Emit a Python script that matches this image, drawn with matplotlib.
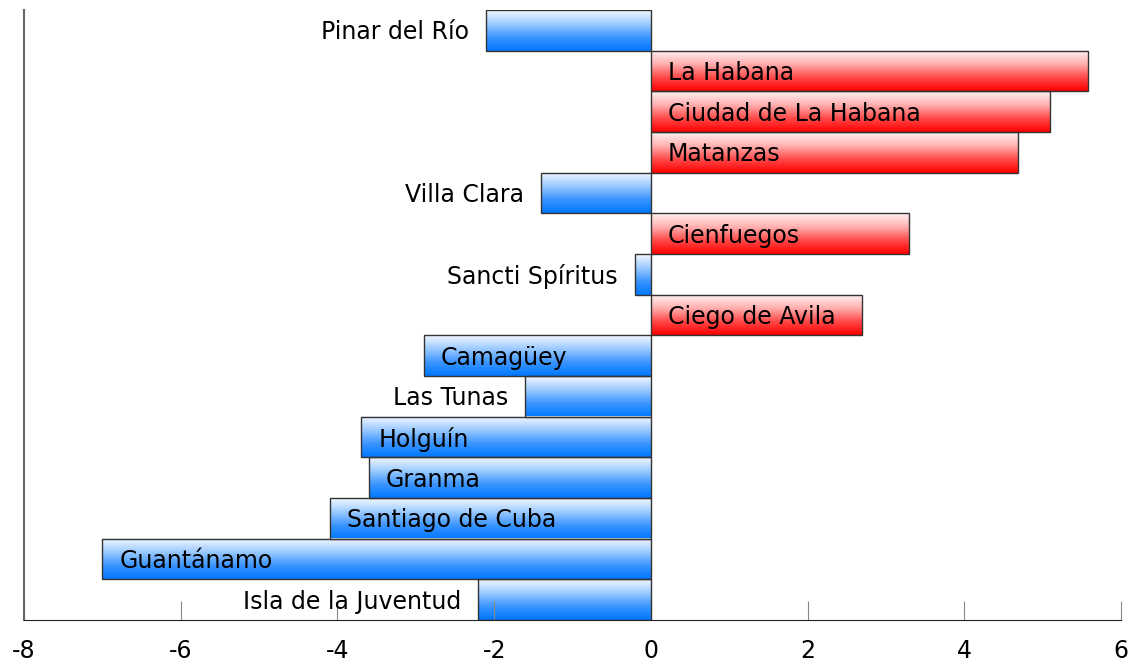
import numpy as np
import matplotlib.pyplot as plt
from matplotlib.colors import LinearSegmentedColormap

provinces = ['Pinar del Río', 'La Habana', 'Ciudad de La Habana', 'Matanzas',
             'Villa Clara', 'Cienfuegos', 'Sancti Spíritus', 'Ciego de Avila',
             'Camagüey', 'Las Tunas', 'Holguín', 'Granma', 'Santiago de Cuba',
             'Guantánamo', 'Isla de la Juventud']
values = [-2.1, 5.58, 5.1, 4.68, -1.4, 3.3, -0.2, 2.7,
          -2.9, -1.6, -3.7, -3.6, -4.1, -7.0, -2.2]
xticks = [-8, -6, -4, -2, 0, 2, 4, 6]

plt.rcParams['font.family'] = ['DejaVu Sans']

fig = plt.figure(figsize=(11.35, 6.64), dpi=100)
ax = fig.add_axes([24 / 1135, 44 / 664, 1097 / 1135, 610 / 664])

blue = LinearSegmentedColormap.from_list('b', ['#f2f8ff', '#9ccaff', '#3c95ff', '#0078ff'])
red = LinearSegmentedColormap.from_list('r', ['#fff2f2', '#ffb0b0', '#ff4a4a', '#ff0000'])
grad = np.linspace(0, 1, 64).reshape(-1, 1)

n = len(provinces)
ypos = np.arange(n)
for y, v, name in zip(ypos, values, provinces):
    cmap = red if v > 0 else blue
    left, right = min(0, v), max(0, v)
    ax.imshow(grad, cmap=cmap, aspect='auto', origin='upper',
              extent=[left, right, y + 0.5, y - 0.5], zorder=1)
    ax.barh(y, v, height=1.0, color='none', edgecolor='#333333', linewidth=1.0, zorder=2)
    # label inside the bar when it is long enough, otherwise to the left
    fits = abs(v) > len(name) * 0.15 + 0.4
    if fits:
        ax.text(left + 0.22, y + 0.05, name, ha='left', va='center', fontsize=17, zorder=3)
    else:
        ax.text(left - 0.22, y + 0.05, name, ha='right', va='center', fontsize=17, zorder=3)

ax.set_xlim(-8, 6)
ax.set_ylim(n - 0.5, -0.5)
ax.set_xticks(xticks)
ax.set_xticklabels([str(t) for t in xticks], fontsize=17)
ax.set_yticks([])
ax.tick_params(axis='x', direction='in', length=14, color='#888888', pad=14)
for s in ['top', 'right']:
    ax.spines[s].set_visible(False)
ax.spines['left'].set_color('#666666')
ax.spines['left'].set_linewidth(1.5)
ax.spines['bottom'].set_color('#222222')
ax.spines['bottom'].set_zorder(4)

plt.savefig('out.png', dpi=100)
